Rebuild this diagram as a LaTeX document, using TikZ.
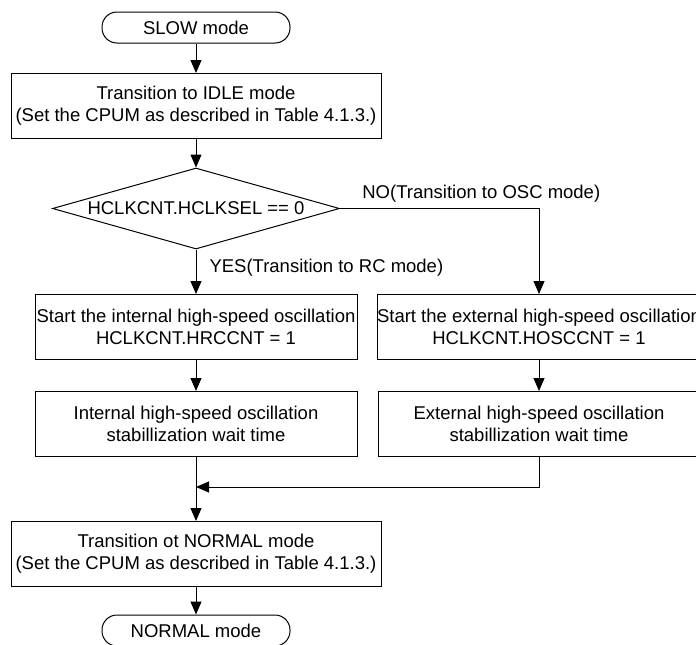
\documentclass[tikz,border=0pt]{standalone}
\usepackage{fontspec}
\setmainfont{Liberation Sans}
\usetikzlibrary{arrows.meta,shapes.geometric}

\begin{document}
\begin{tikzpicture}[x=1pt,y=-1pt,line width=1pt,
  >={Triangle[length=13pt,width=11pt]},
  every node/.style={font=\fontsize{18.5pt}{22pt}\selectfont,inner sep=0pt},
  term/.style={draw,rounded corners=15pt,minimum width=188pt,minimum height=31pt},
  proc/.style={draw,align=center,minimum width=#1,minimum height=65pt},
  decision/.style={draw,diamond,aspect=3.54,minimum width=287pt,minimum height=81pt}]
\fill[white] (0,0) rectangle (696,645);
\useasboundingbox (0,0) rectangle (696,645);

\node[term] (slow) at (196,27.5) {SLOW mode};
\node[proc=370pt] (idle) at (196,106) {Transition to IDLE mode\\(Set the CPUM as described in Table 4.1.3.)};
\node[decision] (sel) at (196,208.5) {HCLKCNT.HCLKSEL == 0};
\node[proc=322pt] (rcon) at (196,327) {Start the internal high-speed oscillation\\HCLKCNT.HRCCNT = 1};
\node[proc=322pt] (oscon) at (539,327) {Start the external high-speed oscillation\\HCLKCNT.HOSCCNT = 1};
\node[proc=322pt] (rcwait) at (196,424) {Internal high-speed oscillation\\stabillization wait time};
\node[proc=322pt] (oswait) at (539,424) {External high-speed oscillation\\stabillization wait time};
\coordinate (join) at (196,487);
\node[proc=370pt] (normtr) at (196,554) {Transition ot NORMAL mode\\(Set the CPUM as described in Table 4.1.3.)};
\node[term] (normal) at (196,630.5) {NORMAL mode};

\draw[->] (slow)--(idle);
\draw[->] (idle)--(sel);
\draw[->] (sel)--(rcon) node[pos=0.52,anchor=base west,xshift=13pt]{YES(Transition to RC mode)};
\draw[->] (sel.east) -| (oscon) node[pos=0.055,anchor=base west,yshift=10pt]{NO(Transition to OSC mode)};
\draw[->] (rcon)--(rcwait);
\draw[->] (oscon)--(oswait);
\draw[->] (rcwait)--(normtr);
\draw[->] (oswait.south) |- (join);
\draw[->] (normtr)--(normal);
\end{tikzpicture}
\end{document}
